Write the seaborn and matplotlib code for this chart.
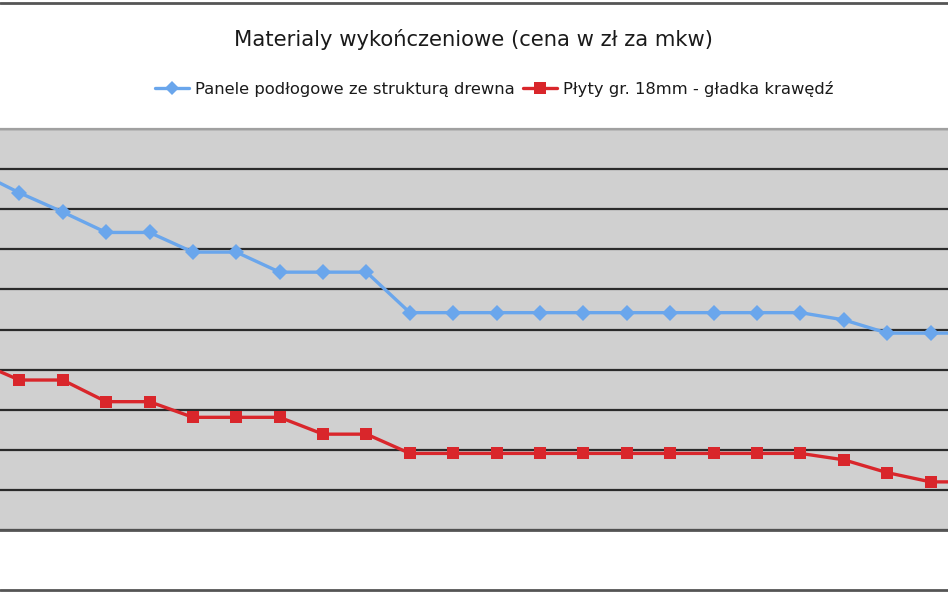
import numpy as np
import pandas as pd
import matplotlib
matplotlib.use("Agg")
import matplotlib.pyplot as plt
from matplotlib.lines import Line2D
import seaborn as sns

# kolejne odczyty (pierwszy i ostatni poza kadrem)
okres = list(range(0, 24))
panele = [89.5, 84.1, 79.3, 74.2, 74.2, 69.3, 69.3, 64.3, 64.3, 64.3,
          54.2, 54.2, 54.2, 54.2, 54.2, 54.2, 54.2, 54.2, 54.2, 54.2,
          52.4, 49.1, 49.1, 49.1]
plyty = [42.1, 37.4, 37.4, 32.0, 32.0, 28.1, 28.1, 28.1, 23.9, 23.9,
         19.1, 19.1, 19.1, 19.1, 19.1, 19.1, 19.1, 19.1, 19.1, 19.1,
         17.5, 14.3, 12.0, 12.0]
nazwy = ["Panele podłogowe ze strukturą drewna",
         "Płyty gr. 18mm - gładka krawędź"]

df = pd.DataFrame({
    "okres": okres * 2,
    "cena": panele + plyty,
    "seria": [nazwy[0]] * len(okres) + [nazwy[1]] * len(okres),
})

sns.set_style("white")
plt.rcParams["font.family"] = ["DejaVu Sans"]

fig = plt.figure(figsize=(9.48, 5.93), dpi=100)
ax = fig.add_axes([0, 63 / 593, 1, 401 / 593])
ax.set_facecolor("#d0d0d0")

kolory = {nazwy[0]: "#6aa6ec", nazwy[1]: "#d9262b"}
sns.lineplot(data=df, x="okres", y="cena", hue="seria", style="seria",
             palette=kolory, markers={nazwy[0]: "D", nazwy[1]: "s"},
             dashes=False, markersize=8, markeredgewidth=0,
             linewidth=2.4, ax=ax, legend=False)

ax.set_xlim(0.555, 22.4)
ax.set_ylim(0, 100)
ax.set_yticks(np.arange(0, 101, 10))
ax.set_xticks([])
ax.yaxis.grid(True, color="#2a2a2a", linewidth=1.6)
ax.set_axisbelow(True)
ax.tick_params(left=False, labelleft=False)
ax.set_xlabel("")
ax.set_ylabel("")
for s in ["left", "right"]:
    ax.spines[s].set_visible(False)
ax.spines["top"].set_color("#a0a0a0")
ax.spines["top"].set_linewidth(1.6)
ax.spines["bottom"].set_color("#555555")
ax.spines["bottom"].set_linewidth(2)

fig.text(0.5, 1 - 40 / 593, "Materialy wykończeniowe (cena w zł za mkw)",
         ha="center", va="center", fontsize=15.2, color="#1a1a1a")

uchwyty = [
    Line2D([], [], color=kolory[nazwy[0]], marker="D", markersize=7,
           markeredgewidth=0, linewidth=2.4),
    Line2D([], [], color=kolory[nazwy[1]], marker="s", markersize=8,
           markeredgewidth=0, linewidth=2.4),
]
fig.legend(uchwyty, nazwy, loc="center",
           bbox_to_anchor=(494 / 948, 1 - 89 / 593),
           ncol=2, frameon=False, fontsize=11.8, handlelength=2.1,
           handletextpad=0.35, columnspacing=0.5, labelcolor="#1a1a1a")

# ramka zrzutu
for yy in [1 - 3 / 593, 3 / 593]:
    fig.add_artist(Line2D([0, 1], [yy, yy], transform=fig.transFigure,
                          color="#555555", linewidth=2))

fig.savefig("out.png", dpi=100)
